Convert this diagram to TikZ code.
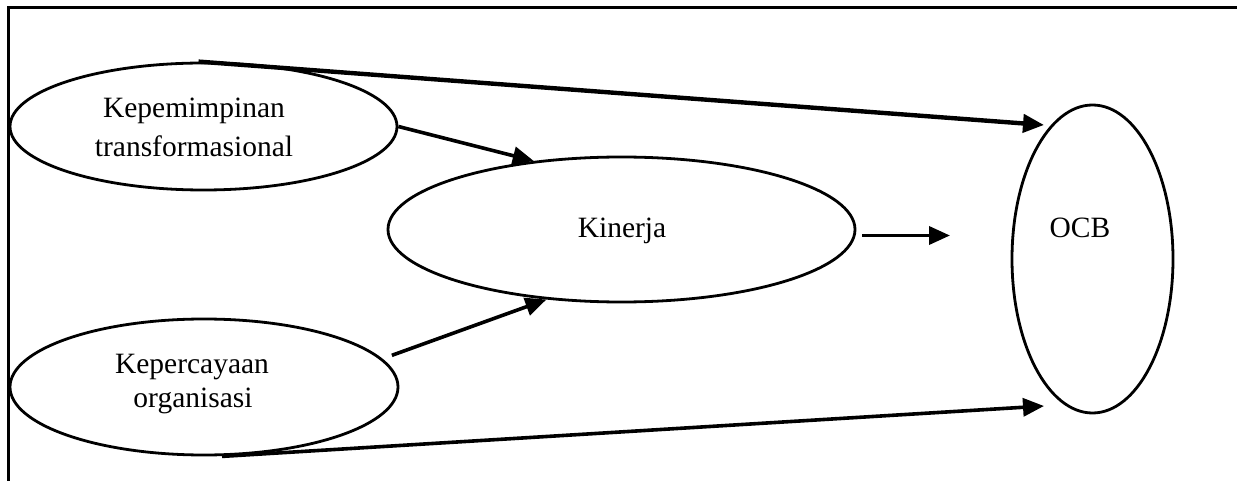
\documentclass[tikz,border=0pt]{standalone}
\usepackage{fontspec}
\setmainfont{Liberation Serif}
\usetikzlibrary{shapes.geometric,arrows.meta}

\tikzset{
  oval/.style={ellipse, draw, line width=2.8pt, inner sep=0pt},
  word/.style={anchor=base, inner sep=0pt, font=\fontsize{29.5}{34}\selectfont},
  arr/.style={line width=3.6pt, -{Triangle[length=21pt,width=18pt]}},
  frameline/.style={line width=3pt}
}

\begin{document}
\begin{tikzpicture}[x=1pt,y=1pt]
\useasboundingbox (0,0) rectangle (1237,480);
\clip (0,0) rectangle (1237,480);

% open frame: only the top and left edges fall inside the page
\draw[frameline] (8,-20) -- (8,472) -- (1260,472);

% construct ellipses
\node[oval, minimum width=387pt, minimum height=127pt] (K)   at (203.5,353.5) {};
\node[oval, minimum width=388pt, minimum height=136pt] (T)   at (204,93) {};
\node[oval, minimum width=467pt, minimum height=145pt] (Kin) at (621.5,250.5) {};
\node[oval, minimum width=161pt, minimum height=308pt] (O)   at (1092.5,221) {};

% labels
\node[word] (Ka) at (194,362) {Kepemimpinan};
\node[word] (Kb) at (194,323) {transformasional};
\node[word] (Ta) at (192,107) {Kepercayaan};
\node[word] (Tb) at (193,73)  {organisasi};
\node[word] (KinL) at (622,242) {Kinerja};
\node[word] (OL) at (1080,243) {OCB};

% arrow tips that stop short of the OCB ellipse
\coordinate (Oin1) at (1044,355);
\coordinate (Oin2) at (1044,74);
\coordinate (Oin3) at (950,244.5);

% paths
\draw[arr, line width=4.4pt] ([xshift=-5pt]K.north) -- (Oin1);
\draw[arr] (K.east) -- (Kin.142.5);
\draw[arr, shorten <=10pt] (T.9) -- (Kin.223.5);
\draw[arr] ([xshift=18pt]T.south) -- (Oin2);
\draw[arr, shorten <=6pt] ([yshift=-6pt]Kin.east) -- (Oin3);
\end{tikzpicture}
\end{document}
